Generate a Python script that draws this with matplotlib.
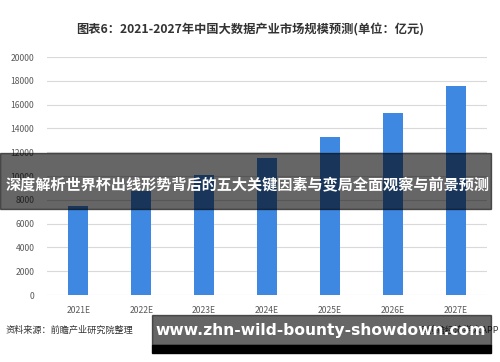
import matplotlib
matplotlib.use("Agg")
import matplotlib.pyplot as plt
from matplotlib.patches import Rectangle

plt.rcParams['font.family'] = ['Noto Sans CJK SC', 'DejaVu Sans']

# 数据
years = ["2021E", "2022E", "2023E", "2024E", "2025E", "2026E", "2027E"]
values = [7500, 8700, 10100, 11500, 13300, 15300, 17600]
yticks = [0, 2000, 4000, 6000, 8000, 10000, 12000, 14000, 16000, 18000, 20000]

title = "图表6：2021-2027年中国大数据产业市场规模预测(单位：亿元)"
source = "资料来源：前瞻产业研究院整理"
brand = "@前瞻经济学人APP"
banner = "深度解析世界杯出线形势背后的五大关键因素与变局全面观察与前景预测"
url = "www.zhn-wild-bounty-showdown.com"

fig = plt.figure(figsize=(5, 3.62), dpi=100)
ax = fig.add_axes([0.094, 0.185, 0.88, 0.6575])

ax.bar(range(len(years)), values, width=0.32, color="#3F88E2", zorder=3)
ax.set_xlim(-0.5, len(years) - 0.5)
ax.set_ylim(0, 20000)
ax.set_yticks(yticks)
ax.set_xticks(range(len(years)))
ax.set_xticklabels(years)
ax.grid(axis="y", color="#d9d9d9", linewidth=0.8, zorder=0)
for s in ax.spines.values():
    s.set_visible(False)
ax.tick_params(axis="both", length=0, labelsize=6.2, colors="#595959")
ax.tick_params(axis="y", pad=9)
ax.tick_params(axis="x", pad=8)

fig.text(0.5, 0.917, title, ha="center", va="center", fontsize=8.8,
         fontweight="bold", color="#333333")
fig.text(0.012, 0.088, source, ha="left", va="center", fontsize=6.6, color="#333333")
fig.text(0.998, 0.088, brand, ha="right", va="center", fontsize=6.6, color="#333333")

# 覆盖横幅
fig.patches.append(Rectangle((0, 1 - 209 / 362), 0.982, 56 / 362,
                             transform=fig.transFigure, color="black",
                             alpha=0.6, zorder=10))
fig.text(0.495, 1 - 185 / 362, banner, ha="center", va="center", fontsize=10.9,
         fontweight="bold", color="white", zorder=11)

fig.patches.append(Rectangle((152 / 500, 1 - 345 / 362), 339 / 500, 30 / 362,
                             transform=fig.transFigure, color="black",
                             alpha=0.6, zorder=10))
fig.patches.append(Rectangle((152 / 500, 1 - 353 / 362), 339 / 500, 8 / 362,
                             transform=fig.transFigure, color="black", zorder=10))
fig.text(0.642, 1 - 331 / 362, url, ha="center", va="center", fontsize=11.2,
         fontweight="bold", color="white", family="DejaVu Sans", zorder=11)

fig.savefig("out.png", dpi=100)
